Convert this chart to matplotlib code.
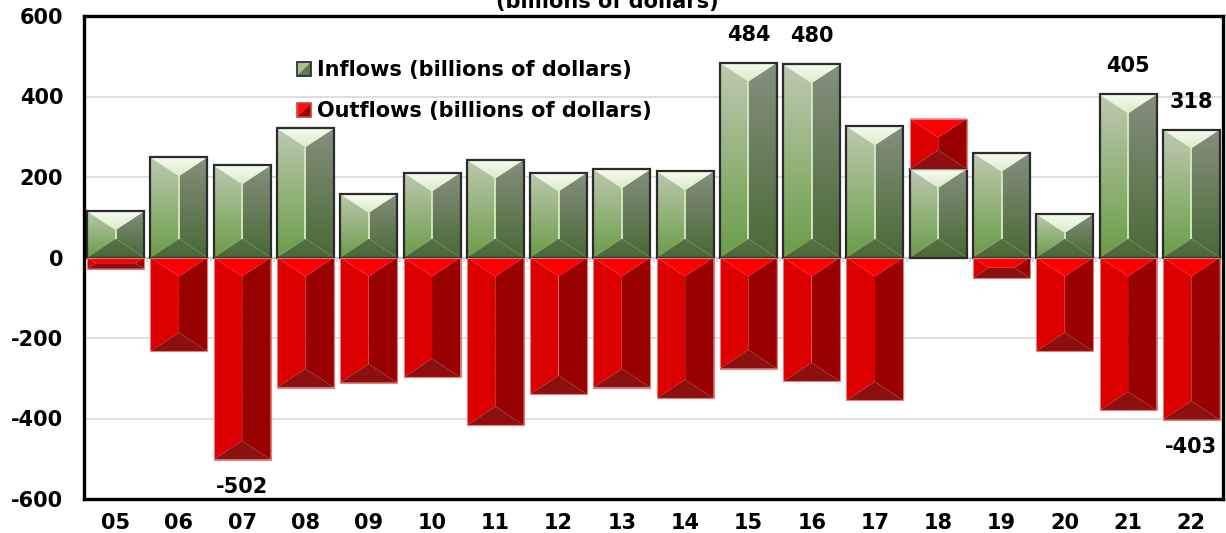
import matplotlib
matplotlib.use("Agg")
import matplotlib.pyplot as plt
import numpy as np
from matplotlib.patches import Polygon, Rectangle
from matplotlib.colors import to_rgb
from matplotlib.legend_handler import HandlerBase

plt.rcParams['font.family'] = ['DejaVu Sans']
plt.rcParams['font.weight'] = 'bold'
plt.rcParams['axes.unicode_minus'] = False

# ---- data -------------------------------------------------------------
years = ["05", "06", "07", "08", "09", "10", "11", "12", "13", "14",
         "15", "16", "17", "18", "19", "20", "21", "22"]
inflows = [115, 249, 229, 321, 158, 211, 243, 211, 219, 214,
           484, 480, 326, 220, 260, 108, 405, 318]
outflows = [-28, -233, -502, -323, -311, -298, -417, -340, -323, -350,
            -276, -308, -355, 125, -51, -233, -380, -403]
inflow_labels = {"15": 484, "16": 480, "21": 405, "22": 318}
outflow_labels = {"07": -502, "22": -403}
yticks = [-600, -400, -200, 0, 200, 400, 600]
legend_labels = ["Inflows (billions of dollars)", "Outflows (billions of dollars)"]
subtitle = "(billions of dollars)"

# ---- styles -----------------------------------------------------------
GREEN = dict(top=("#f7fcef", "#dcebcb"), left=("#bdc9b1", "#6b9d48"),
             right=("#858f7e", "#4a6a36"), bottom=("#567442", "#4b6838"),
             line="#d4ebbf", edge="#2b2b2b", lw=1.6)
RED = dict(top=("#ff0000", "#ff0000"), left=("#dc0000", "#dc0000"),
           right=("#990000", "#990000"), bottom=("#8c1010", "#8c1010"),
           line=None, edge="#e87a7a", lw=0.8)
BAR_W = 0.9
SLOPE = 0.66
FS = 15

fig = plt.figure(figsize=(12.26, 5.33), dpi=100)
ax = fig.add_axes([84 / 1226, 34 / 533, 1139 / 1226, 483 / 533])
ax.set_xlim(-0.5, len(years) - 0.5)
ax.set_ylim(-600, 600)

def data_per_px():
    t = ax.transData
    p0 = t.transform((0, 0))
    px = t.transform((1, 0))[0] - p0[0]
    py = t.transform((0, 1))[1] - p0[1]
    return px, py

def grad_fill(verts, c_top, c_bot, z=2):
    verts = np.asarray(verts)
    xmin, xmax = verts[:, 0].min(), verts[:, 0].max()
    ymin, ymax = verts[:, 1].min(), verts[:, 1].max()
    if ymax - ymin <= 0 or xmax - xmin <= 0:
        return
    n = 64
    a, b = np.array(to_rgb(c_top)), np.array(to_rgb(c_bot))
    t = np.linspace(0, 1, n)[:, None]
    img = (a * (1 - t) + b * t)[:, None, :]
    im = ax.imshow(img, extent=(xmin, xmax, ymin, ymax), origin="upper",
                   aspect="auto", interpolation="bilinear", zorder=z)
    clip = Polygon(verts, closed=True, transform=ax.transData)
    im.set_clip_path(clip)

def bevel_bar(xc, y0, y1, style):
    if y1 == y0:
        return
    yb, yt = min(y0, y1), max(y0, y1)
    x0, x1 = xc - BAR_W / 2, xc + BAR_W / 2
    sx, sy = data_per_px()
    w_px, h_px = (x1 - x0) * sx, (yt - yb) * sy
    hx_px = min(w_px / 2, h_px / 2 / SLOPE)
    hx, vy = hx_px / sx, hx_px * SLOPE / sy
    top = [(x0, yt), (x1, yt), (x1 - hx, yt - vy), (x0 + hx, yt - vy)]
    bot = [(x0, yb), (x1, yb), (x1 - hx, yb + vy), (x0 + hx, yb + vy)]
    left = [(x0, yt), (x0 + hx, yt - vy), (x0 + hx, yb + vy), (x0, yb)]
    right = [(x1, yt), (x1 - hx, yt - vy), (x1 - hx, yb + vy), (x1, yb)]
    grad_fill(left, *style["left"])
    grad_fill(right, *style["right"])
    grad_fill(top, *style["top"])
    grad_fill(bot, *style["bottom"])
    if style["line"] and (yt - vy) > (yb + vy):
        ax.plot([xc, xc], [yt - vy, yb + vy], color=style["line"], lw=1.3,
                zorder=3, solid_capstyle="butt")
    ax.add_patch(Rectangle((x0, yb), x1 - x0, yt - yb, fill=False,
                           edgecolor=style["edge"], lw=style["lw"], zorder=4))

# grid and zero line
for yv in [-400, -200, 200, 400]:
    ax.axhline(yv, color="#d9d9d9", lw=1.2, zorder=1)
ax.axhline(0, color="#cfcfcf", lw=1.6, zorder=1)
ax.vlines(np.arange(len(years) + 1) - 0.5, -12, 0, color="#cfcfcf", lw=1.2, zorder=1)

x = np.arange(len(years))
for i, yr in enumerate(years):
    bevel_bar(x[i], 0, inflows[i], GREEN)
    base = inflows[i] if outflows[i] > 0 else 0
    bevel_bar(x[i], base, base + outflows[i], RED)

for yr, v in inflow_labels.items():
    i = years.index(yr)
    ax.annotate(f"{v}", (x[i], inflows[i]), xytext=(0, 28), textcoords="offset pixels",
                ha="center", va="center", fontsize=FS, fontweight="bold")
for yr, v in outflow_labels.items():
    i = years.index(yr)
    ax.annotate(f"{v}", (x[i], outflows[i]), xytext=(0, -27), textcoords="offset pixels",
                ha="center", va="center", fontsize=FS, fontweight="bold")

ax.set_xlim(-0.5, len(years) - 0.5)
ax.set_ylim(-600, 600)
ax.set_xticks(x)
ax.set_xticklabels(years)
ax.set_yticks(yticks)
ax.tick_params(axis="both", length=0, labelsize=FS)
ax.tick_params(axis="y", pad=15)
ax.tick_params(axis="x", pad=10)
for s in ax.spines.values():
    s.set_linewidth(2.4)
    s.set_color("black")
    s.set_zorder(6)

# legend with small bevelled swatches
class BevelHandler(HandlerBase):
    def __init__(self, light, dark, edge):
        super().__init__()
        self.light, self.dark, self.edge = light, dark, edge

    def create_artists(self, legend, orig_handle, xdescent, ydescent,
                       width, height, fontsize, trans):
        s = height * 1.0
        x0, y0 = -xdescent + (width - s) / 2, -ydescent
        p1 = Polygon([(x0, y0 + s), (x0 + s, y0 + s), (x0, y0)], closed=True,
                     facecolor=self.light, edgecolor="none", transform=trans)
        p2 = Polygon([(x0 + s, y0 + s), (x0 + s, y0), (x0, y0)], closed=True,
                     facecolor=self.dark, edgecolor="none", transform=trans)
        r = Rectangle((x0, y0), s, s, fill=False, edgecolor=self.edge, lw=1.2,
                      transform=trans)
        return [p1, p2, r]

h_in = Rectangle((0, 0), 1, 1)
h_out = Rectangle((0, 0), 1, 1, facecolor="red")
leg = ax.legend([h_in, h_out], legend_labels, loc="upper left",
                bbox_to_anchor=(0.178, 0.93), frameon=False, fontsize=FS,
                handlelength=0.7, handleheight=0.65, handletextpad=0.25,
                labelspacing=1.0, borderpad=0,
                handler_map={h_in: BevelHandler("#a9bf98", "#5e7d4a", "#222222"),
                             h_out: BevelHandler("#ff1010", "#a00000", "#d04040")})
leg.set_zorder(7)

fig.text(0.495, 1 - 8 / 533, subtitle, ha="center", va="baseline",
         fontsize=FS, fontweight="bold")

fig.savefig("out.png", dpi=100)
